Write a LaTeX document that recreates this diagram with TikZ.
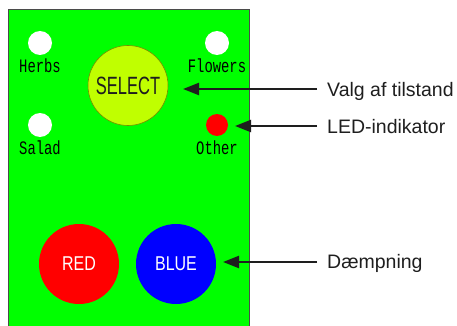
\documentclass[tikz,border=0pt]{standalone}
\usepackage{fontspec}
\setmainfont{Liberation Sans}
\newfontfamily\monof{Liberation Mono}
\usetikzlibrary{arrows.meta}
\definecolor{panel}{RGB}{0,255,0}
\definecolor{selfill}{RGB}{192,255,0}
\definecolor{ink}{RGB}{30,30,30}
\definecolor{selline}{RGB}{120,140,0}
\begin{document}
\begin{tikzpicture}[x=1pt,y=-1pt,
  small/.style={font=\monof\fontsize{19}{19}\selectfont, text=black, inner sep=0pt, anchor=base},
  knob/.style={circle, minimum size=80pt, inner sep=0pt},
  lamp/.style={circle, fill=white, minimum size=24pt, inner sep=0pt},
  callout/.style={font=\fontsize{19.5}{20}\selectfont, anchor=base west, inner sep=0pt, text=ink},
  pointer/.style={draw=ink, line width=2.2pt, -{Triangle[length=16pt,width=12pt]}}]
\useasboundingbox (0,0) rectangle (457,326);
\clip (0,0) rectangle (457,326);
\draw[fill=panel, draw=ink!80, line width=1pt] (8,10) rectangle (249,340);
% lamps
\node[lamp] (herbs) at (40,43) {};
\node[small] (herbsL) at (40,72.7) {\scalebox{0.73}[1]{Herbs}};
\node[lamp] (flowers) at (217,43) {};
\node[small] (flowersL) at (217,72.7) {\scalebox{0.73}[1]{Flowers}};
\node[lamp] (salad) at (40,125) {};
\node[small] (saladL) at (40,154) {\scalebox{0.73}[1]{Salad}};
\node[circle, fill=red, minimum size=22pt, inner sep=0pt] (led) at (217,125) {};
\node[small] (otherL) at (217,154) {\scalebox{0.73}[1]{Other}};
% knobs
\node[knob, fill=selfill, draw=selline, line width=0.6pt, text=ink,
      font=\fontsize{25}{25}\selectfont] (select) at (128,85.5) {\scalebox{0.66}[1]{SELECT}};
\node[knob, fill=red, text=white, font=\fontsize{20}{20}\selectfont] (redk) at (79,264) {\scalebox{0.8}[1]{RED}};
\node[knob, fill=blue, text=white, font=\fontsize{20}{20}\selectfont] (bluek) at (176,264) {\scalebox{0.8}[1]{BLUE}};
% callouts
\node[callout] (valg) at (327,96) {Valg af tilstand};
\node[callout] (ledL) at (327,133.3) {LED-indikator};
\node[callout] (daemp) at (327,268.3) {Dæmpning};
\coordinate (valgtail) at (317,89);
\coordinate (valgtip) at (183,89);
\coordinate (ledtail) at (317,126);
\coordinate (ledtip) at (235,126);
\coordinate (daemptail) at (317,262);
\coordinate (daemptip) at (223,262);
\draw[pointer] (valgtail) -- (valgtip);
\draw[pointer] (ledtail) -- (ledtip);
\draw[pointer] (daemptail) -- (daemptip);
\end{tikzpicture}
\end{document}
